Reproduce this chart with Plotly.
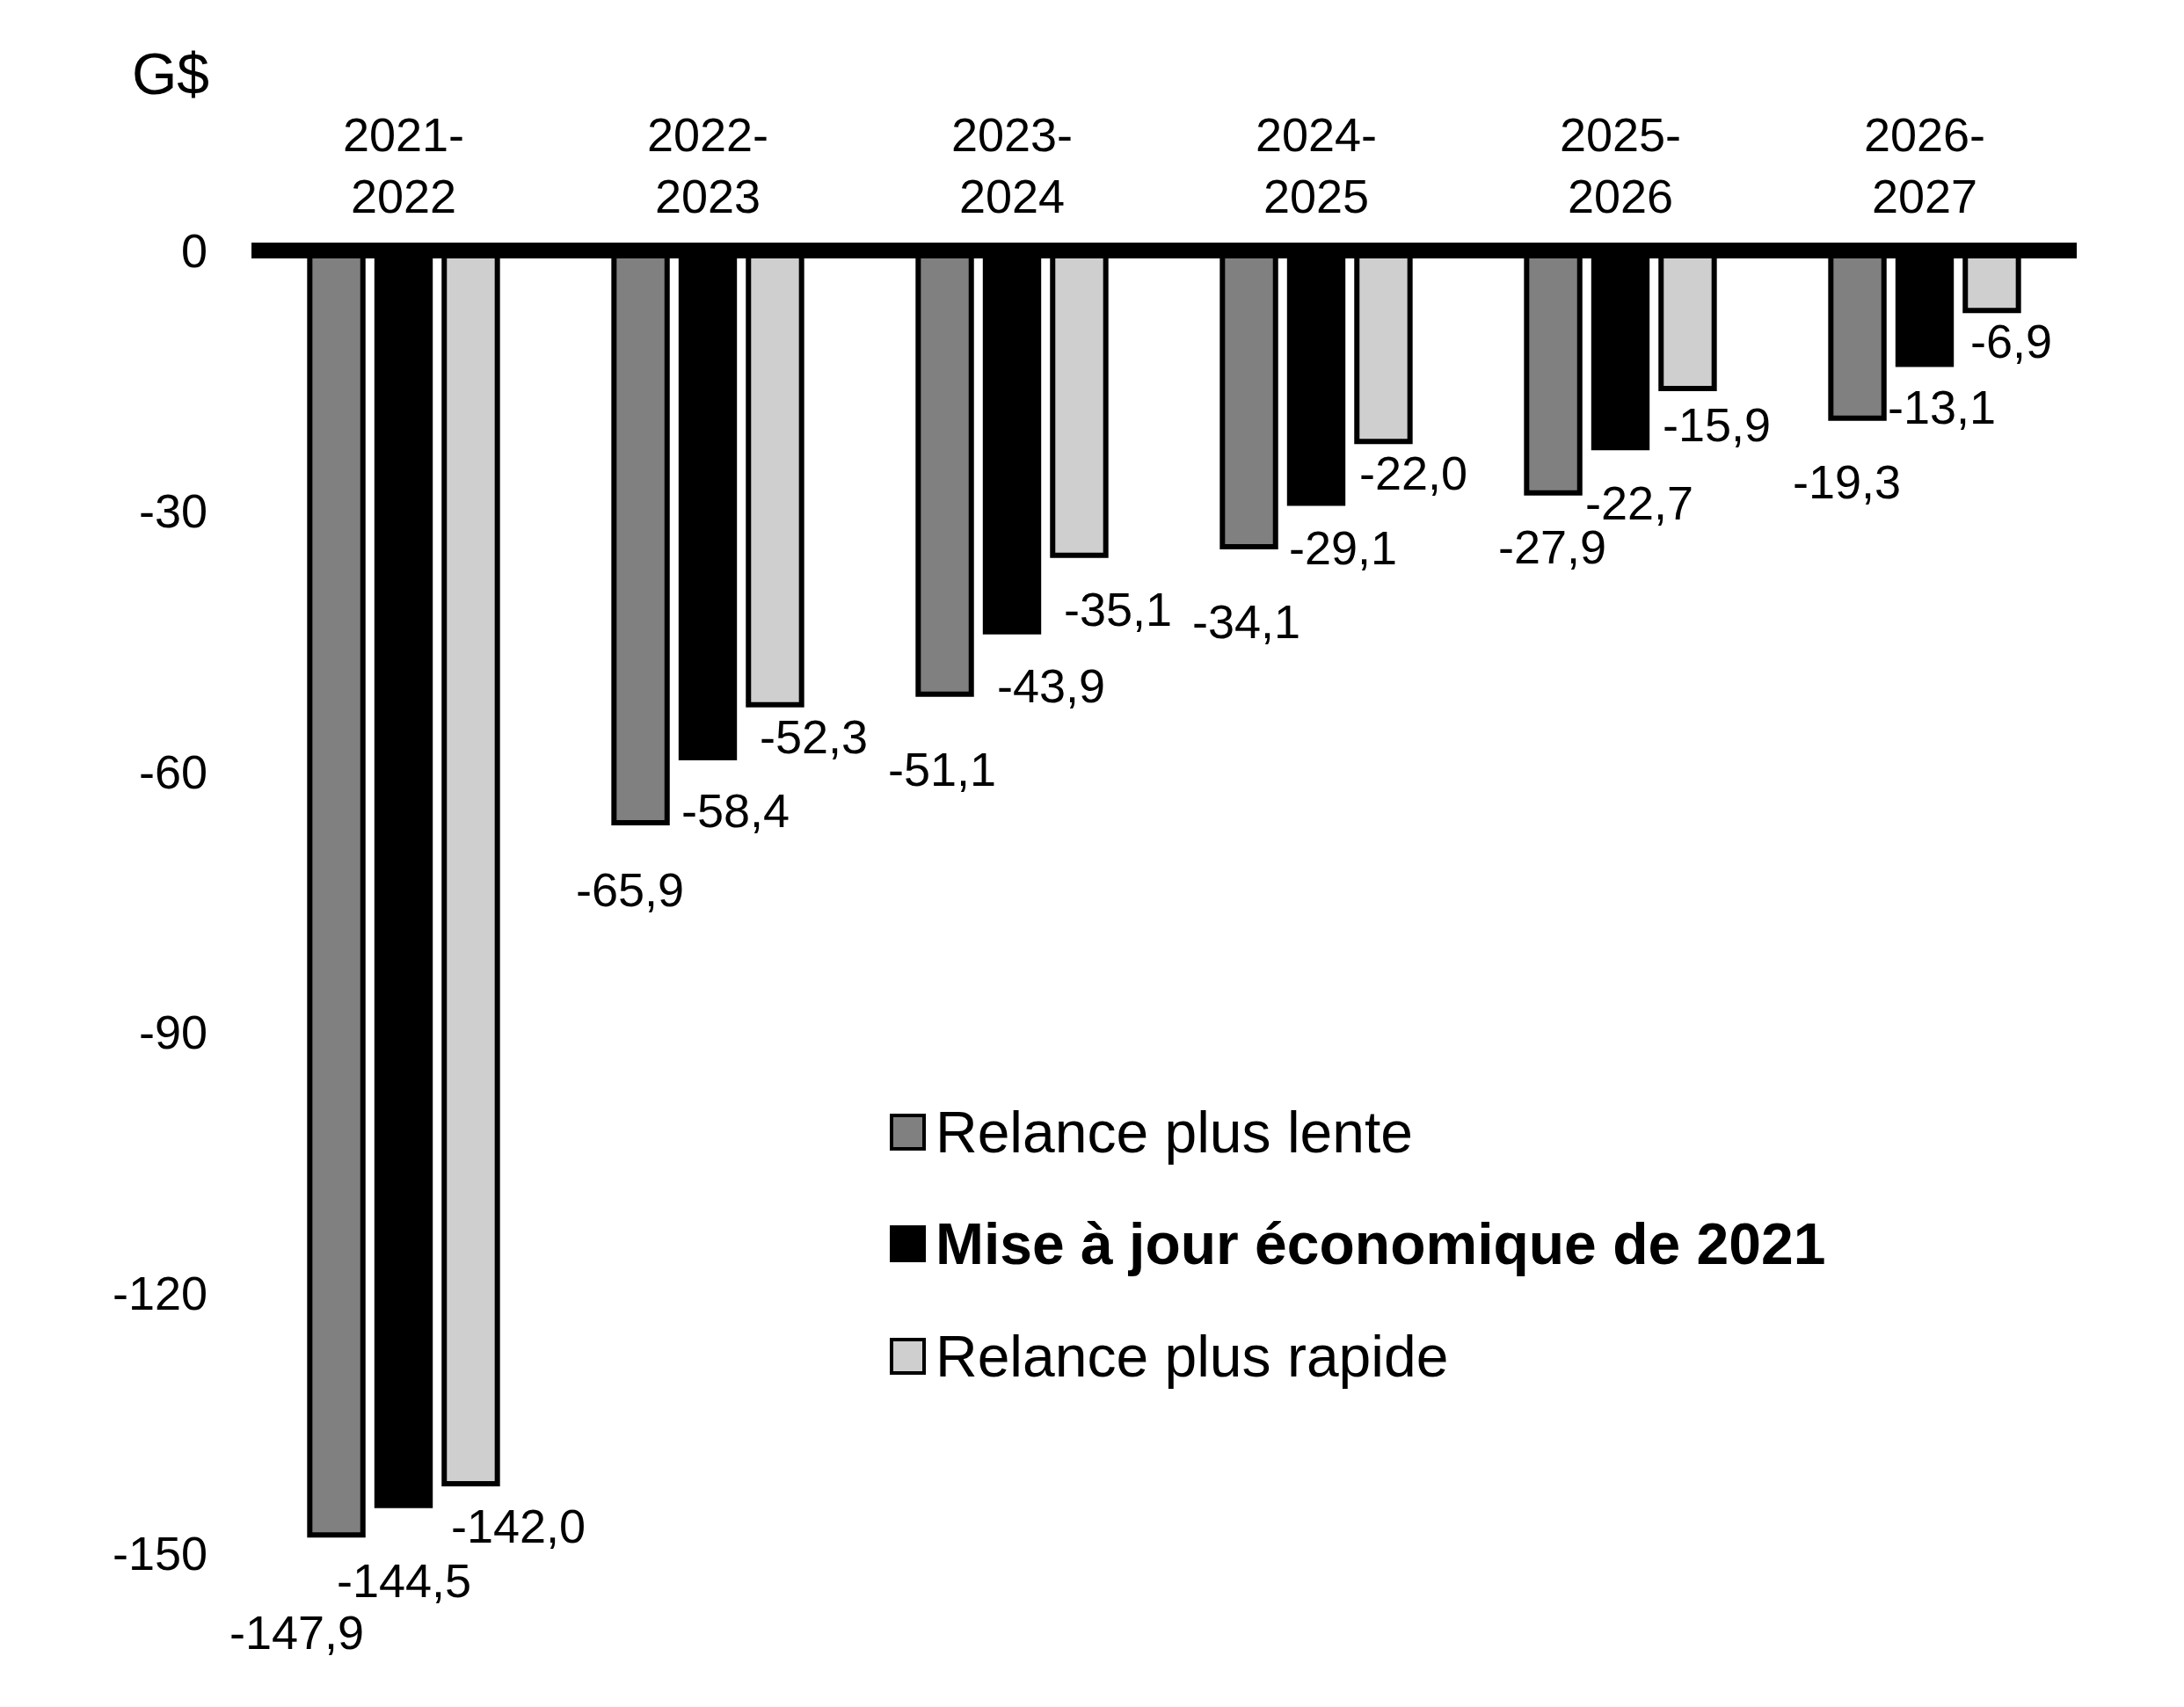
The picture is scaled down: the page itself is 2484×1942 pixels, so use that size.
import plotly.graph_objects as go

# fiscal years and budget balance scenarios (G$)
years = ['2021-2022', '2022-2023', '2023-2024', '2024-2025', '2025-2026', '2026-2027']
names = ['Relance plus lente', 'Mise à jour économique de 2021', 'Relance plus rapide']
slower = [-147.9, -65.9, -51.1, -34.1, -27.9, -19.3]
update = [-144.5, -58.4, -43.9, -29.1, -22.7, -13.1]
faster = [-142.0, -52.3, -35.1, -22.0, -15.9, -6.9]
y_ticks = [0, -30, -60, -90, -120, -150]
y_ticktext = ['0', '-30', '-60', '-90', '-120', '-150']

# label nudges (px) relative to each bar's end, as placed in the original
label_dx = [[-45, -12, -3, -3, -1, -12],
            [0, 31, 44, 30, 21, 19],
            [54, 44, 44, 34, 33, 22]]
label_dy = [[111, 76, 85, 85, 61, 72],
            [85, 60, 61, 50, 63, 49],
            [48, 36, 61, 36, 41, 35]]

colors = ['#808080', '#000000', '#d0cfd0']
series = [slower, update, faster]
FONT = 'Liberation Sans, Arial, sans-serif'

W, H = 2484, 1942
OFF = 8  # page body margin
ml, mr, mt, mb = 278, 130, 277, 183
pw, ph = W - ml - mr, H - mt - mb


def px2paper(x, y):
    # screen pixel -> paper coords
    return (x - OFF - ml) / pw, (H - mb - (y - OFF)) / ph


fig = go.Figure()
for name, vals, col in zip(names, series, colors):
    fig.add_trace(go.Bar(x=years, y=vals, name=name, marker_color=col,
                         marker_line_color='black', marker_line_width=6,
                         showlegend=False))

# value labels
slot = pw / len(years) * (1 - 0.337) / 3
for s, vals in enumerate(series):
    for i, v in enumerate(vals):
        fig.add_annotation(x=years[i], y=v, text=f'{v:.1f}'.replace('.', ','),
                           showarrow=False, xanchor='center', yanchor='middle',
                           xshift=(s - 1) * slot + label_dx[s][i], yshift=-label_dy[s][i],
                           font=dict(family=FONT, size=54, color='black'))

# thick zero line on top of the bars (0 is the top of the y range; paper ref avoids clipping)
fig.add_shape(type='line', xref='paper', x0=0, x1=1, yref='paper', y0=1, y1=1,
              line=dict(color='black', width=18), layer='above')

# legend drawn by hand (big swatches)
leg_y = [1288, 1415, 1543]
for name, col, yy in zip(names, colors, leg_y):
    x0, y0 = px2paper(1014, yy + 19)
    x1, y1 = px2paper(1051, yy - 19)
    fig.add_shape(type='rect', xref='paper', yref='paper', x0=x0, x1=x1, y0=y0, y1=y1,
                  fillcolor=col, line=dict(color='black', width=4))
    tx, ty = px2paper(1062, yy)
    label = f'<b>{name}</b>' if col == '#000000' else name
    fig.add_annotation(xref='paper', yref='paper', x=tx, y=ty, text=label, showarrow=False,
                       xanchor='left', yanchor='middle',
                       font=dict(family=FONT, size=66, color='black'))

gx, gy = px2paper(240, 84)
fig.add_annotation(xref='paper', yref='paper', x=gx, y=gy, text='G$', showarrow=False,
                   xanchor='right', yanchor='middle', font=dict(family=FONT, size=66, color='black'))

fig.update_layout(
    width=W, height=H,
    margin=dict(l=ml, r=mr, t=mt, b=mb),
    plot_bgcolor='white', paper_bgcolor='white',
    barmode='group', bargap=0.337, bargroupgap=0.21,
    font=dict(family=FONT, size=54, color='black'),
    xaxis=dict(side='top', range=[-0.5, len(years) - 0.5], showgrid=False, zeroline=False,
               showline=False, ticks='',
               tickvals=years, ticktext=[y.replace('-', '-<br>') for y in years],
               tickfont=dict(size=54), ticklabelstandoff=31),
    yaxis=dict(range=[-150, 0], showgrid=False, zeroline=False, showline=False, ticks='',
               tickvals=y_ticks, ticktext=y_ticktext, tickfont=dict(size=54),
               ticklabelstandoff=49),
)

fig.write_html('out.html')
